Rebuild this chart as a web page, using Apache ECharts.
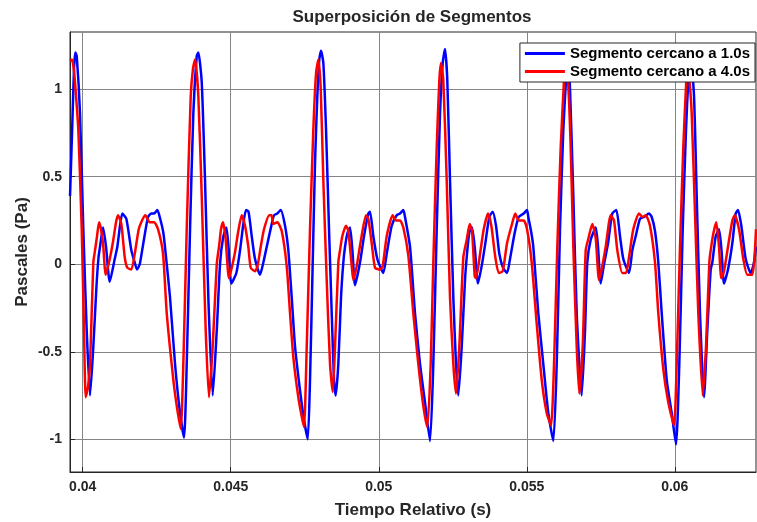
<!DOCTYPE html>
<html>
<head>
<meta charset="utf-8">
<script src="https://cdn.jsdelivr.net/npm/echarts@6/dist/echarts.min.js"></script>
<style>
  html, body { margin: 0; padding: 0; background: #fff; }
  #main { width: 757px; height: 522px; }
</style>
</head>
<body>
<div id="main"></div>
<script>
// tick labels
var xTicks = [0.04, 0.045, 0.05, 0.055, 0.06];
var yTicks = [-1, -0.5, 0, 0.5, 1];

// Segmento cercano a 1.0s (blue) : time (s) / pressure (Pa)
var tBlue = [0.039571,0.039639,0.039706,0.039750,0.039797,0.039909,0.040020,0.040135,0.040247,0.040358,
  0.040466,0.040534,0.040584,0.040686,0.040787,0.040912,0.041081,0.041169,0.041260,0.041338,
  0.041473,0.041642,0.041757,0.041834,0.041926,0.042037,0.042206,0.042317,0.042409,0.042520,
  0.042601,0.042723,0.042838,0.042949,0.043118,0.043287,0.043422,0.043513,0.043625,0.043736,
  0.043851,0.043905,0.044020,0.044131,0.044243,0.044391,0.044527,0.044638,0.044739,0.044851,
  0.044925,0.045020,0.045189,0.045314,0.045425,0.045516,0.045601,0.045709,0.045820,0.045989,
  0.046101,0.046216,0.046384,0.046462,0.046574,0.046688,0.046834,0.046945,0.047060,0.047172,
  0.047340,0.047476,0.047601,0.047678,0.047769,0.047847,0.047925,0.047992,0.048050,0.048128,
  0.048219,0.048320,0.048411,0.048489,0.048546,0.048634,0.048725,0.048803,0.048861,0.048945,
  0.049029,0.049114,0.049198,0.049367,0.049502,0.049648,0.049705,0.049817,0.049952,0.050154,
  0.050269,0.050438,0.050607,0.050718,0.050830,0.050887,0.051056,0.051225,0.051394,0.051563,
  0.051732,0.051843,0.051958,0.052070,0.052161,0.052239,0.052316,0.052407,0.052519,0.052610,
  0.052688,0.052803,0.052914,0.052982,0.053059,0.053151,0.053252,0.053353,0.053488,0.053600,
  0.053735,0.053850,0.053961,0.054073,0.054198,0.054333,0.054444,0.054593,0.054728,0.054897,
  0.055009,0.055052,0.055154,0.055221,0.055390,0.055559,0.055728,0.055897,0.056012,0.056123,
  0.056235,0.056326,0.056393,0.056461,0.056573,0.056687,0.056856,0.056968,0.057045,0.057160,
  0.057329,0.057407,0.057498,0.057610,0.057745,0.057890,0.058025,0.058150,0.058262,0.058454,
  0.058566,0.058680,0.058826,0.058961,0.059130,0.059221,0.059332,0.059444,0.059559,0.059728,
  0.059896,0.060042,0.060153,0.060268,0.060380,0.060457,0.060532,0.060650,0.060741,0.060852,
  0.060988,0.061099,0.061214,0.061268,0.061383,0.061494,0.061579,0.061663,0.061798,0.061944,
  0.062058,0.062136,0.062248,0.062396,0.062565,0.062677,0.062744];
var vBlue = [0.39,0.75,1.12,1.21,1.19,0.86,0.20,-0.38,-0.75,-0.47,
  -0.12,0.04,0.10,0.21,0.10,-0.10,0.03,0.10,0.22,0.29,
  0.26,0.08,0.01,-0.03,0.00,0.11,0.27,0.29,0.29,0.31,
  0.27,0.18,0.00,-0.19,-0.57,-0.85,-0.99,-0.57,0.20,0.86,
  1.19,1.21,1.04,0.48,-0.19,-0.75,-0.38,0.00,0.15,0.21,
  0.10,-0.11,-0.05,0.08,0.23,0.31,0.30,0.16,0.03,-0.06,
  0.01,0.10,0.23,0.28,0.29,0.31,0.22,0.08,-0.19,-0.47,
  -0.72,-0.89,-1.00,-0.66,0.01,0.58,0.96,1.17,1.22,1.15,
  0.77,0.20,-0.28,-0.66,-0.75,-0.57,-0.19,0.01,0.10,0.18,
  0.21,0.07,-0.12,0.01,0.16,0.29,0.30,0.16,0.03,-0.05,
  0.06,0.22,0.28,0.29,0.31,0.27,0.10,-0.28,-0.57,-0.79,
  -1.01,-0.57,0.20,0.86,1.15,1.23,1.05,0.48,-0.19,-0.57,
  -0.75,-0.47,-0.09,0.06,0.18,0.21,0.08,-0.11,0.00,0.12,
  0.27,0.30,0.22,0.06,-0.02,-0.05,0.04,0.18,0.27,0.29,
  0.31,0.27,0.18,0.10,-0.28,-0.57,-0.85,-1.01,-0.57,0.20,
  0.77,1.05,1.20,1.00,0.39,-0.28,-0.75,-0.38,0.01,0.14,
  0.21,0.10,-0.11,0.00,0.12,0.29,0.31,0.16,0.03,-0.05,
  0.08,0.16,0.26,0.27,0.29,0.27,0.19,0.01,-0.28,-0.66,
  -0.85,-1.03,-0.57,0.20,0.77,1.05,1.20,0.96,0.39,-0.28,
  -0.76,-0.38,-0.03,0.01,0.16,0.20,0.08,-0.11,-0.03,0.12,
  0.29,0.31,0.22,0.03,-0.05,0.01,0.10];

// Segmento cercano a 4.0s (red)
var tRed = [0.039571,0.039639,0.039706,0.039757,0.039851,0.039966,0.040044,0.040101,0.040179,0.040247,
  0.040358,0.040416,0.040483,0.040551,0.040618,0.040686,0.040777,0.040912,0.041024,0.041125,
  0.041192,0.041304,0.041419,0.041507,0.041642,0.041757,0.041892,0.042003,0.042115,0.042263,
  0.042409,0.042544,0.042713,0.042838,0.043061,0.043186,0.043310,0.043398,0.043513,0.043648,
  0.043726,0.043794,0.043905,0.044020,0.044155,0.044266,0.044391,0.044527,0.044604,0.044672,
  0.044739,0.044824,0.044942,0.045135,0.045246,0.045371,0.045483,0.045594,0.045675,0.045820,
  0.045905,0.046013,0.046124,0.046303,0.046378,0.046439,0.046574,0.046722,0.046891,0.047003,
  0.047114,0.047283,0.047398,0.047476,0.047567,0.047678,0.047790,0.047881,0.047959,0.048040,
  0.048128,0.048242,0.048354,0.048445,0.048523,0.048634,0.048692,0.048769,0.048894,0.048972,
  0.049087,0.049141,0.049256,0.049391,0.049570,0.049648,0.049762,0.049874,0.050043,0.050134,
  0.050269,0.050472,0.050583,0.050718,0.050830,0.050999,0.051168,0.051337,0.051506,0.051641,
  0.051755,0.051843,0.051958,0.052046,0.052103,0.052181,0.052296,0.052407,0.052519,0.052610,
  0.052722,0.052857,0.052972,0.053073,0.053151,0.053242,0.053286,0.053431,0.053546,0.053691,
  0.053803,0.053938,0.054053,0.054188,0.054333,0.054502,0.054613,0.054728,0.054897,0.055009,
  0.055167,0.055336,0.055505,0.055674,0.055819,0.055921,0.056032,0.056147,0.056258,0.056309,
  0.056393,0.056478,0.056573,0.056687,0.056775,0.056890,0.056991,0.057086,0.057214,0.057329,
  0.057441,0.057552,0.057667,0.057836,0.057947,0.058059,0.058228,0.058353,0.058454,0.058599,
  0.058792,0.058903,0.059018,0.059163,0.059332,0.059444,0.059613,0.059782,0.059974,0.060065,
  0.060177,0.060288,0.060380,0.060430,0.060498,0.060572,0.060684,0.060795,0.060944,0.061055,
  0.061167,0.061214,0.061308,0.061403,0.061494,0.061572,0.061663,0.061798,0.061944,0.062025,
  0.062170,0.062315,0.062450,0.062619,0.062700,0.062744];
var vRed = [1.16,1.17,1.10,1.00,0.77,0.20,-0.38,-0.76,-0.70,-0.57,
  0.01,0.08,0.16,0.24,0.20,0.12,-0.06,0.03,0.13,0.24,
  0.28,0.23,0.04,-0.02,-0.03,0.06,0.20,0.25,0.28,0.24,
  0.24,0.20,0.06,-0.28,-0.66,-0.82,-0.94,-0.57,0.20,0.96,
  1.12,1.17,0.96,0.39,-0.38,-0.76,-0.47,0.00,0.10,0.20,
  0.24,0.15,-0.08,0.06,0.18,0.28,0.22,0.10,-0.02,-0.04,
  -0.01,0.10,0.20,0.28,0.28,0.23,0.24,0.19,-0.01,-0.28,
  -0.53,-0.76,-0.87,-0.93,-0.47,0.20,0.77,1.09,1.17,1.00,
  0.48,-0.09,-0.57,-0.73,-0.47,0.01,0.08,0.16,0.22,0.19,
  -0.01,-0.09,-0.01,0.13,0.28,0.26,0.12,-0.02,-0.03,-0.01,
  0.16,0.28,0.25,0.25,0.21,0.05,-0.28,-0.57,-0.81,-0.93,
  -0.57,0.01,0.67,1.05,1.15,1.05,0.48,-0.19,-0.57,-0.74,
  -0.47,0.04,0.14,0.23,0.19,-0.07,-0.08,0.07,0.20,0.29,
  0.22,0.04,-0.05,-0.04,0.12,0.23,0.29,0.25,0.25,0.20,
  0.01,-0.34,-0.66,-0.85,-0.92,-0.57,0.10,0.67,1.05,1.17,
  1.05,0.70,0.10,-0.47,-0.74,-0.47,0.08,0.15,0.23,0.15,
  -0.09,-0.01,0.10,0.28,0.25,0.08,-0.05,-0.05,0.04,0.20,
  0.29,0.27,0.28,0.22,0.01,-0.28,-0.60,-0.79,-0.92,-0.57,
  0.10,0.67,1.02,1.16,1.05,0.86,0.29,-0.28,-0.75,-0.47,
  0.01,0.08,0.18,0.24,0.10,-0.08,-0.04,0.10,0.25,0.28,
  0.20,0.03,-0.06,-0.06,0.06,0.20];

function pairs(t, v) {
  var out = [];
  for (var i = 0; i < t.length; i++) out.push([t[i], v[i]]);
  return out;
}

var ink = '#262626';
var font = 'Liberation Sans, Arial, sans-serif';
var myChart = echarts.init(document.getElementById('main'), null, { renderer: 'canvas' });

var option = {
  animation: false,
  backgroundColor: '#fff',
  title: {
    text: 'Superposición de Segmentos',
    left: 412,
    top: 9,
    padding: 0,
    textAlign: 'center',
    textStyle: { fontFamily: font, fontSize: 17, fontWeight: 'bold', color: ink }
  },
  legend: {
    orient: 'vertical',
    right: 2,
    top: 43,
    padding: [3, 5, 3, 5],
    itemGap: 3,
    itemWidth: 40,
    itemHeight: 3,
    icon: 'rect',
    backgroundColor: '#fff',
    borderColor: ink,
    borderWidth: 1,
    borderRadius: 0,
    textStyle: { fontFamily: font, fontSize: 15, fontWeight: 'bold', color: '#000' },
    data: ['Segmento cercano a 1.0s', 'Segmento cercano a 4.0s']
  },
  grid: {
    left: 70, right: 1, top: 32, bottom: 50,
    outerBoundsMode: 'none',
    show: true, borderColor: ink, borderWidth: 1, backgroundColor: '#fff'
  },
  xAxis: {
    type: 'value',
    min: 0.03957,
    max: 0.062744,
    name: 'Tiempo Relativo (s)',
    nameLocation: 'middle',
    nameGap: 30,
    nameMoveOverlap: false,
    nameTextStyle: { fontFamily: font, fontSize: 17, fontWeight: 'bold', color: ink },
    axisLine: { onZero: false, lineStyle: { color: ink } },
    axisTick: { inside: true, length: 5, customValues: xTicks, lineStyle: { color: ink } },
    axisLabel: { customValues: xTicks, margin: 8, fontFamily: font, fontSize: 14, fontWeight: 'bold', color: ink },
    splitLine: { show: true, lineStyle: { color: '#858585', width: 1 } }
  },
  yAxis: {
    type: 'value',
    min: -1.187,
    max: 1.327,
    name: 'Pascales (Pa)',
    nameLocation: 'middle',
    nameGap: 39,
    nameMoveOverlap: false,
    nameTextStyle: { fontFamily: font, fontSize: 17, fontWeight: 'bold', color: ink },
    axisLine: { show: true, onZero: false, lineStyle: { color: ink } },
    axisTick: { show: true, inside: true, length: 5, customValues: yTicks, lineStyle: { color: ink } },
    axisLabel: { customValues: yTicks, margin: 8, fontFamily: font, fontSize: 14, fontWeight: 'bold', color: ink },
    splitLine: { show: true, lineStyle: { color: '#858585', width: 1 } }
  },
  series: [
    {
      name: 'Segmento cercano a 1.0s',
      type: 'line',
      data: pairs(tBlue, vBlue),
      showSymbol: false,
      smooth: 0.2,
      clip: true,
      color: '#0000ff',
      lineStyle: { color: '#0000ff', width: 2.5 }
    },
    {
      name: 'Segmento cercano a 4.0s',
      type: 'line',
      data: pairs(tRed, vRed),
      showSymbol: false,
      smooth: 0.2,
      clip: true,
      color: '#ff0000',
      lineStyle: { color: '#ff0000', width: 2.5 }
    }
  ]
};

myChart.setOption(option);
</script>
</body>
</html>
